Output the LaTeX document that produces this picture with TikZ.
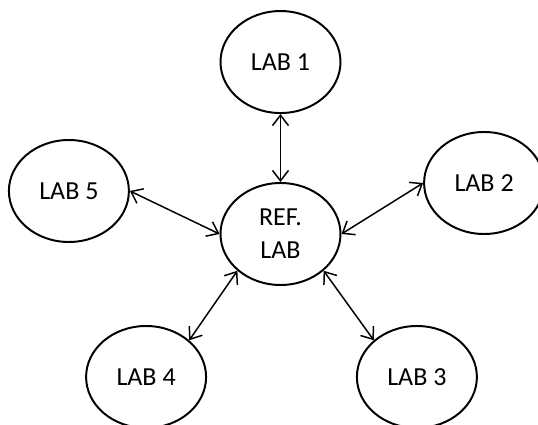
\documentclass[tikz,border=0pt]{standalone}
\usepackage{fontspec}
\setmainfont{Carlito}
\usepackage{tikz}
\usetikzlibrary{positioning}
\usetikzlibrary{shapes}
\usetikzlibrary{arrows.meta}

\begin{document}
\begin{tikzpicture}[lab/.style={draw, ellipse, line width=1.4pt, minimum width=3cm, minimum height=2.55cm, inner sep=0pt, font=\fontsize{18.5}{23.5}\selectfont},
				link/.style={{Straight Barb[length=2.6mm, width=4mm]}-{Straight Barb[length=2.6mm, width=4mm]}, line width=1.05pt},
				every text node part/.style={align=center}]
				\useasboundingbox (-7.0125, -4.775) rectangle (6.4375, 5.85);
				\node[lab](ref) at (0, 0) {REF.\\LAB};
				\node[lab, above=1.7cm of ref](lab1) {LAB 1};
				\node[lab](lab2) at (5.09, 1.275) {LAB 2};
				\node[lab](lab3) at (3.41, -3.575) {LAB 3};
				\node[lab](lab4) at (-3.36, -3.575) {LAB 4};
				\node[lab](lab5) at (-5.29, 1.075) {LAB 5};
				
				\draw [link] (lab1.south) -- (ref.north);
				\draw [link] (lab2.west) -- (ref.east);
				\draw [link] (lab3.north west) -- (ref.south east);
				\draw [link] (lab4.north east) -- (ref.south west);
				\draw [link] (lab5.east) -- (ref.west);
				
			\end{tikzpicture}
\end{document}
